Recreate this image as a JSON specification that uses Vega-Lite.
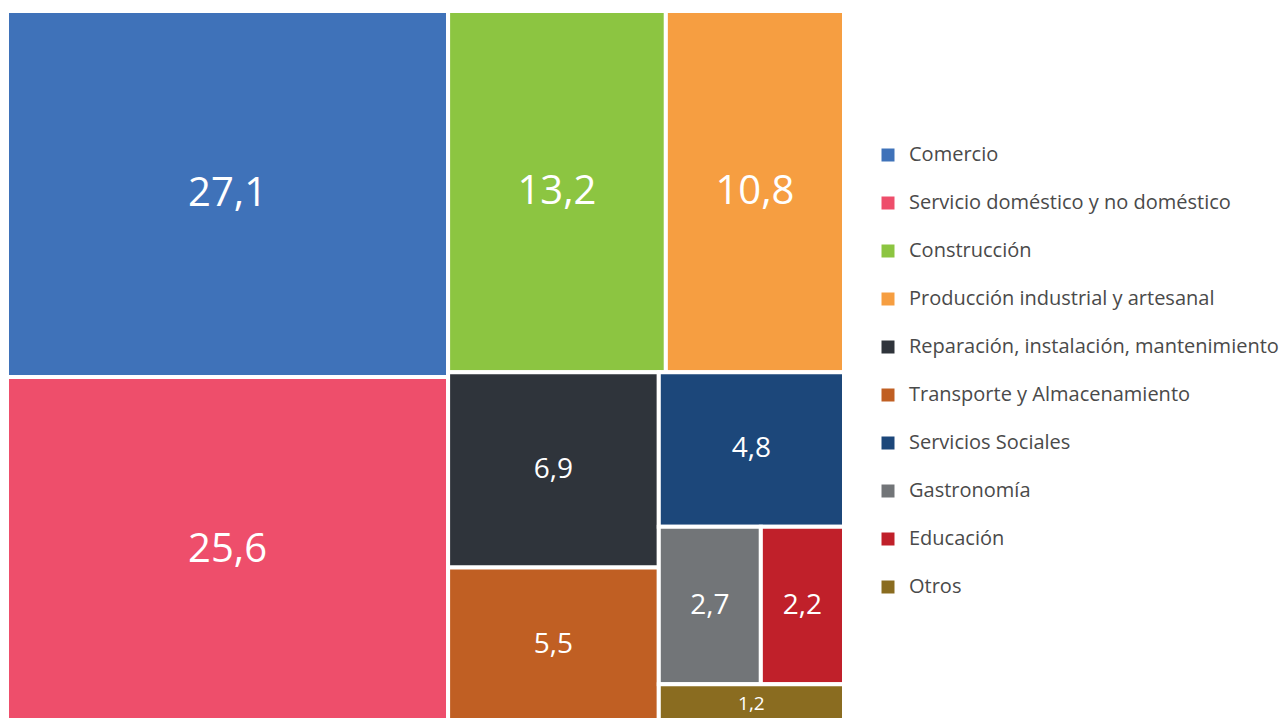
{
  "$schema": "https://vega.github.io/schema/vega-lite/v6.json",
  "width": 837,
  "height": 707,
  "autosize": {"type": "none"},
  "padding": {"left": 7, "top": 11, "right": 435, "bottom": 0},
  "background": "white",
  "config": {
    "view": {"stroke": null},
    "locale": {"number": {"decimal": ",", "thousands": ".", "grouping": [3], "currency": ["", " €"]}},
    "font": "Open Sans"
  },
  "data": {
    "values": [
      {"rama": "Comercio", "valor": 27.1, "orden": 1, "g1": "A", "g2": "Comercio", "g3": "Comercio", "g4": "Comercio", "g5": "Comercio"},
      {"rama": "Servicio doméstico y no doméstico", "valor": 25.6, "orden": 2, "g1": "A", "g2": "Servicio", "g3": "Servicio", "g4": "Servicio", "g5": "Servicio"},
      {"rama": "Construcción", "valor": 13.2, "orden": 3, "g1": "B", "g2": "B1", "g3": "Construcción", "g4": "Construcción", "g5": "Construcción"},
      {"rama": "Producción industrial y artesanal", "valor": 10.8, "orden": 4, "g1": "B", "g2": "B1", "g3": "Producción", "g4": "Producción", "g5": "Producción"},
      {"rama": "Reparación, instalación, mantenimiento", "valor": 6.9, "orden": 5, "g1": "B", "g2": "B2", "g3": "B2a", "g4": "Reparación", "g5": "Reparación"},
      {"rama": "Transporte y Almacenamiento", "valor": 5.5, "orden": 6, "g1": "B", "g2": "B2", "g3": "B2a", "g4": "Transporte", "g5": "Transporte"},
      {"rama": "Servicios Sociales", "valor": 4.8, "orden": 7, "g1": "B", "g2": "B2", "g3": "B2b", "g4": "Sociales", "g5": "Sociales"},
      {"rama": "Gastronomía", "valor": 2.7, "orden": 8, "g1": "B", "g2": "B2", "g3": "B2b", "g4": "Fila", "g5": "Gastronomía"},
      {"rama": "Educación", "valor": 2.2, "orden": 9, "g1": "B", "g2": "B2", "g3": "B2b", "g4": "Fila", "g5": "Educación"},
      {"rama": "Otros", "valor": 1.2, "orden": 10, "g1": "B", "g2": "B2", "g3": "B2b", "g4": "Otros", "g5": "Otros"}
    ]
  },
  "transform": [
    {"window": [{"op": "sum", "field": "valor", "as": "acum"}], "sort": [{"field": "orden"}], "frame": [null, 0]},
    {"calculate": "datum.acum - datum.valor", "as": "c"},
    {"joinaggregate": [{"op": "sum", "field": "valor", "as": "total"}]},
    {"joinaggregate": [{"op": "sum", "field": "valor", "as": "s1"}, {"op": "min", "field": "c", "as": "a1"}], "groupby": ["g1"]},
    {"joinaggregate": [{"op": "sum", "field": "valor", "as": "s2"}, {"op": "min", "field": "c", "as": "a2"}], "groupby": ["g2"]},
    {"joinaggregate": [{"op": "sum", "field": "valor", "as": "s3"}, {"op": "min", "field": "c", "as": "a3"}], "groupby": ["g3"]},
    {"joinaggregate": [{"op": "sum", "field": "valor", "as": "s4"}, {"op": "min", "field": "c", "as": "a4"}], "groupby": ["g4"]},
    {"joinaggregate": [{"op": "sum", "field": "valor", "as": "s5"}, {"op": "min", "field": "c", "as": "a5"}], "groupby": ["g5"]},
    {"calculate": "datum.a1 / datum.total * 100", "as": "xa1"},
    {"calculate": "(datum.a1 + datum.s1) / datum.total * 100", "as": "xb1"},
    {"calculate": "(datum.a2 - datum.a1) / datum.s1 * 100", "as": "ya2"},
    {"calculate": "(datum.a2 + datum.s2 - datum.a1) / datum.s1 * 100", "as": "yb2"},
    {"calculate": "datum.xa1 + (datum.a3 - datum.a2) / datum.s2 * (datum.xb1 - datum.xa1)", "as": "xa3"},
    {"calculate": "datum.xa1 + (datum.a3 + datum.s3 - datum.a2) / datum.s2 * (datum.xb1 - datum.xa1)", "as": "xb3"},
    {"calculate": "datum.ya2 + (datum.a4 - datum.a3) / datum.s3 * (datum.yb2 - datum.ya2)", "as": "ya4"},
    {"calculate": "datum.ya2 + (datum.a4 + datum.s4 - datum.a3) / datum.s3 * (datum.yb2 - datum.ya2)", "as": "yb4"},
    {"calculate": "datum.xa3 + (datum.a5 - datum.a4) / datum.s4 * (datum.xb3 - datum.xa3)", "as": "xa5"},
    {"calculate": "datum.xa3 + (datum.a5 + datum.s5 - datum.a4) / datum.s4 * (datum.xb3 - datum.xa3)", "as": "xb5"},
    {"calculate": "(datum.xa5 + datum.xb5) / 2", "as": "cx"},
    {"calculate": "(datum.ya4 + datum.yb4) / 2", "as": "cy"}
  ],
  "layer": [
    {
      "mark": {"type": "rect", "stroke": "white", "strokeWidth": 4, "clip": true},
      "encoding": {
        "x": {"field": "xa5", "type": "quantitative", "scale": {"domain": [0, 100], "nice": false, "zero": false}, "axis": null},
        "x2": {"field": "xb5"},
        "y": {"field": "ya4", "type": "quantitative", "scale": {"domain": [0, 99.3], "nice": false, "zero": false, "reverse": true}, "axis": null},
        "y2": {"field": "yb4"},
        "color": {
          "field": "rama",
          "type": "nominal",
          "scale": {
            "domain": ["Comercio", "Servicio doméstico y no doméstico", "Construcción", "Producción industrial y artesanal", "Reparación, instalación, mantenimiento", "Transporte y Almacenamiento", "Servicios Sociales", "Gastronomía", "Educación", "Otros"],
            "range": ["#3F72B9", "#EE4E6B", "#8CC541", "#F69E41", "#2F343B", "#C05F23", "#1C477A", "#727578", "#C0202A", "#8A6C20"]
          },
          "legend": {
            "title": null,
            "orient": "none",
            "legendX": 871,
            "legendY": 134,
            "symbolType": "square",
            "symbolSize": 169,
            "symbolStrokeWidth": 0,
            "symbolOpacity": 1,
            "labelFont": "Open Sans",
            "labelFontSize": 20,
            "labelColor": "#4A4A4A",
            "labelOffset": 11,
            "labelLimit": 500,
            "rowPadding": 28
          }
        }
      }
    },
    {
      "mark": {"type": "text", "color": "white", "font": "Open Sans", "align": "center", "baseline": "middle"},
      "encoding": {
        "x": {"field": "cx", "type": "quantitative"},
        "y": {"field": "cy", "type": "quantitative"},
        "text": {"field": "valor", "type": "quantitative", "format": ".1f"},
        "size": {"field": "valor", "type": "quantitative", "scale": {"type": "threshold", "domain": [2, 10], "range": [19, 28, 40]}, "legend": null}
      }
    }
  ]
}
